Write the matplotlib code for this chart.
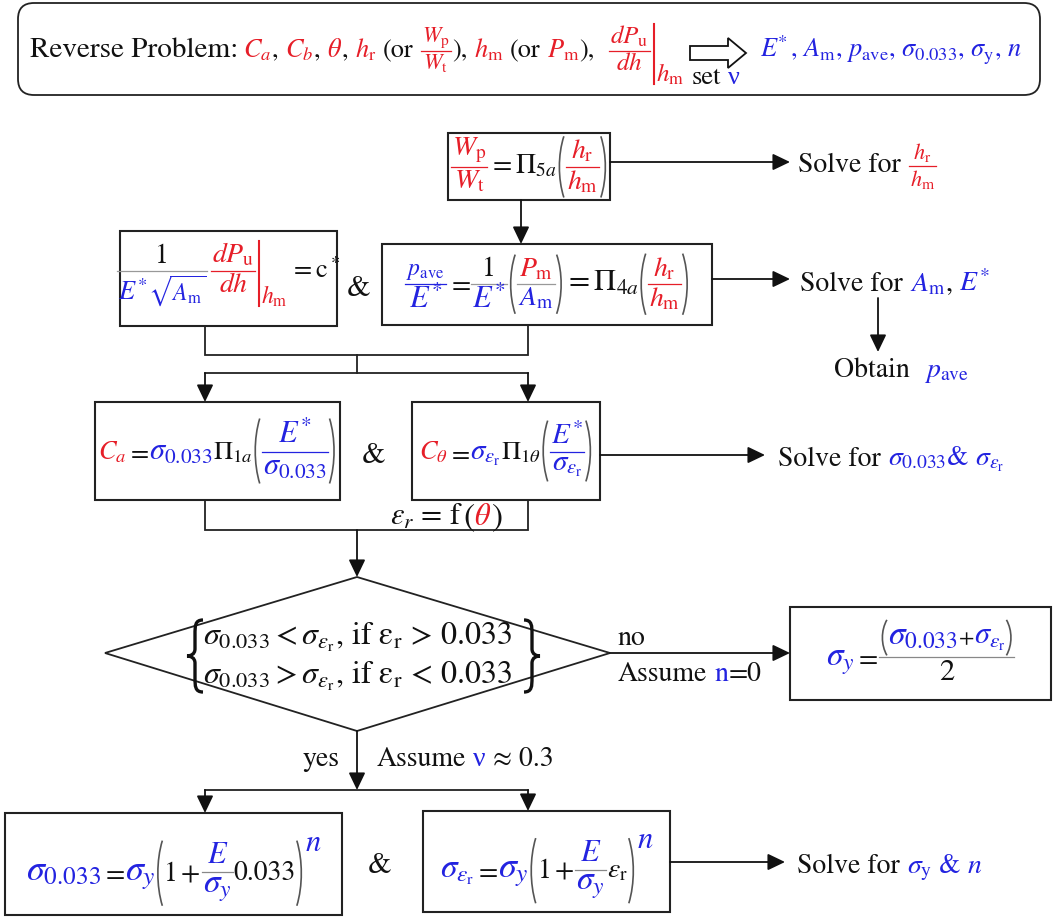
import matplotlib.pyplot as plt
from matplotlib.path import Path
from matplotlib.patches import PathPatch, Rectangle, FancyBboxPatch, Polygon

plt.rcParams['mathtext.fontset'] = 'stix'
plt.rcParams['font.family'] = ['STIXGeneral', 'DejaVu Serif']

RED = '#e61e28'
BLUE = '#2323e0'
INK = '#111111'
EDGE = '#222222'

W, H = 1054, 918
PX = 100 / 72

# plain-text labels of the flow chart
header_title = 'Reverse Problem:'
header_outputs = r'$E^{\!\!*}$, $A_\mathrm{m}$, $p_\mathrm{ave}$, $\sigma_{0.033}$, $\sigma_\mathrm{y}$, $n$'
solve_word = 'Solve for'
obtain_word = 'Obtain'
branch_no = ['no', 'Assume', 'n', '=0']
branch_yes = ['yes', 'Assume', 'ν', '≈ 0.3']
conditions = [r'$\sigma_{0.033} < \sigma_{\varepsilon_\mathrm{r}}$, if ε$_\mathrm{r}$ > 0.033',
              r'$\sigma_{0.033} > \sigma_{\varepsilon_\mathrm{r}}$, if ε$_\mathrm{r}$ < 0.033']

fig = plt.figure(figsize=(W / 100, H / 100), dpi=100)
ax = fig.add_axes([0, 0, 1, 1])
ax.set_xlim(0, W)
ax.set_ylim(H, 0)
ax.axis('off')
rend = fig.canvas.get_renderer()


class Txt:
    def __init__(self, s, color=INK, size=20, family=None):
        kw = {'family': family} if family else {}
        self.t = ax.text(0, 0, s, color=color, fontsize=size, va='baseline', ha='left', **kw)
        bb = self.t.get_window_extent(rend)
        self.w, self.asc, self.desc = bb.width, bb.y1 - H, H - bb.y0

    def place(self, x, y):
        self.t.set_position((x, y))


class Gap:
    def __init__(self, w):
        self.w, self.asc, self.desc = w, 0, 0

    def place(self, x, y):
        pass


def sp(size=20):
    return Gap(0.25 * size * PX)


class Row:
    def __init__(self, *items):
        self.items = items
        self.w = sum(i.w for i in items)
        self.asc = max(i.asc for i in items)
        self.desc = max(i.desc for i in items)

    def place(self, x, y):
        for i in self.items:
            i.place(x, y)
            x += i.w


class Frac:
    def __init__(self, num, den, color=INK, size=20, pad=2, gap=2, axis=0.25):
        self.num, self.den, self.color = num, den, color
        self.axis = axis * size * PX
        self.gap, self.pad = gap, pad
        self.w = max(num.w, den.w) + 2 * pad
        self.asc = self.axis + gap + num.desc + num.asc
        self.desc = den.asc + den.desc + gap - self.axis

    def place(self, x, y):
        by = y - self.axis
        self.num.place(x + (self.w - self.num.w) / 2, by - self.gap - self.num.desc)
        self.den.place(x + (self.w - self.den.w) / 2, by + self.gap + self.den.asc)
        ax.plot([x + 1, x + self.w - 1], [by, by], color=self.color, lw=0.9)


class Paren:
    def __init__(self, inner, pw=7, m=2, color='#555555'):
        self.inner, self.pw, self.m, self.color = inner, pw, m, color
        self.w = inner.w + 2 * pw + 2
        self.asc = inner.asc + m
        self.desc = inner.desc + m

    def place(self, x, y):
        top, bot = y - self.asc, y + self.desc
        h = bot - top
        self.inner.place(x + self.pw + 1, y)
        for x0, x1 in ((x + self.pw, x + 1), (x + self.w - self.pw, x + self.w - 1)):
            verts = [(x0, top), (x1, top + 0.3 * h), (x1, bot - 0.3 * h), (x0, bot)]
            path = Path(verts, [Path.MOVETO, Path.CURVE4, Path.CURVE4, Path.CURVE4])
            ax.add_patch(PathPatch(path, fill=False, ec=self.color, lw=1.2))


class EvalBar:
    def __init__(self, inner, sub, color=RED):
        self.inner, self.sub, self.color = inner, sub, color
        self.w = inner.w + 5 + sub.w
        self.asc = inner.asc
        self.desc = inner.desc + 0.4 * sub.asc

    def place(self, x, y):
        self.inner.place(x, y)
        bx = x + self.inner.w + 3
        ax.plot([bx, bx], [y - self.inner.asc, y + self.inner.desc + 8], color=self.color, lw=1.5)
        self.sub.place(bx + 2, y + self.inner.desc + 6)


class Sup:
    def __init__(self, base, sup):
        self.base, self.sup = base, sup
        self.w = base.w + sup.w + 1
        self.asc = base.asc + 0.5 * sup.asc
        self.desc = base.desc

    def place(self, x, y):
        self.base.place(x, y)
        self.sup.place(x + self.base.w + 1, y - self.base.asc + 0.5 * self.sup.asc)


def boxed(x0, y0, x1, y1, content, dx=0, dy=0):
    ax.add_patch(Rectangle((x0, y0), x1 - x0, y1 - y0, fill=False, ec=EDGE, lw=1.5))
    cx = (x0 + x1) / 2 - content.w / 2 + dx
    cy = (y0 + y1) / 2 + (content.asc - content.desc) / 2 + dy
    content.place(cx, cy)


def line(xs, ys):
    ax.plot(xs, ys, color=EDGE, lw=1.3, solid_joinstyle='miter')


def arrow(x0, y0, x1, y1):
    ax.annotate('', xy=(x1, y1), xytext=(x0, y0),
                arrowprops=dict(arrowstyle='-|>,head_length=0.75,head_width=0.36',
                                color=INK, lw=1.3, shrinkA=0, shrinkB=0,
                                mutation_scale=14))


def brace(x_tip, top, bot, w):
    # curly brace drawn as a path; w < 0 opens to the left
    mid = (top + bot) / 2
    h = bot - top
    xa, xm = x_tip + w, x_tip + w / 2
    verts = [(xa, top), (xm, top), (xm, top + 0.08 * h), (xm, top + 0.2 * h),
             (xm, mid - 0.1 * h),
             (xm, mid - 0.02 * h), (x_tip + 0.2 * w, mid), (x_tip, mid),
             (x_tip + 0.2 * w, mid), (xm, mid + 0.02 * h), (xm, mid + 0.1 * h),
             (xm, bot - 0.2 * h),
             (xm, bot - 0.08 * h), (xm, bot), (xa, bot)]
    codes = ([Path.MOVETO] + [Path.CURVE4] * 3 + [Path.LINETO] + [Path.CURVE4] * 6
             + [Path.LINETO] + [Path.CURVE4] * 3)
    ax.add_patch(PathPatch(Path(verts, codes), fill=False, ec=INK, lw=2.4))


def hr(size=20, color=RED):
    return Frac(Txt(r'$h_\mathrm{r}$', color, size), Txt(r'$h_\mathrm{m}$', color, size), color, size)


ESTAR = r'$E^{\!*}$'

# ---- header ----
ax.add_patch(FancyBboxPatch((18, 3), 1022, 92, boxstyle='round,pad=0,rounding_size=16',
                            fill=False, ec=EDGE, lw=1.3))
hs = 19
Row(Txt(header_title, INK, 21), Gap(5),
    Txt('$C_a$', RED, hs), Txt(',', INK, hs), sp(hs),
    Txt('$C_b$', RED, hs), Txt(',', INK, hs), sp(hs),
    Txt(r'$\theta$', RED, hs), Txt(',', INK, hs), sp(hs),
    Txt(r'$h_\mathrm{r}$', RED, hs), sp(hs), Txt('(or', INK, hs), sp(hs),
    Frac(Txt(r'$W_\mathrm{p}$', RED, 16), Txt(r'$W_\mathrm{t}$', RED, 16), RED, 16, gap=1),
    Txt('),', INK, hs), sp(hs),
    Txt(r'$h_\mathrm{m}$', RED, hs), sp(hs), Txt('(or', INK, hs), sp(hs),
    Txt(r'$P_\mathrm{m}$', RED, hs), Txt('),', INK, hs), sp(hs), sp(hs),
    EvalBar(Frac(Txt(r'$dP_\mathrm{u}$', RED, 18), Txt('$dh$', RED, 18), RED, 18, gap=1),
            Txt(r'$h_\mathrm{m}$', RED, 18))).place(30, 57)
ax.add_patch(Polygon([(690, 46), (728, 46), (728, 38), (746, 53), (728, 68), (728, 60), (690, 60)],
                     closed=True, fc='white', ec=INK, lw=1.3))
Row(Txt('set', INK, hs), sp(hs), Txt('ν', BLUE, hs, 'Liberation Serif')).place(692, 84)
Txt(header_outputs, BLUE, hs).place(760, 57)

# ---- energy ratio box ----
boxed(448, 133, 610, 200,
      Row(Frac(Txt(r'$W_\mathrm{p}$', RED, 20), Txt(r'$W_\mathrm{t}$', RED, 20), RED, 20),
          Txt(r'$=\Pi_{5a}$', INK, 20), Paren(hr(20))))
arrow(610, 162, 790, 162)
Row(Txt(solve_word, INK, 20), sp(), hr(16)).place(798, 172)
arrow(521, 200, 521, 244)

# ---- slope box and average pressure box ----
boxed(120, 231, 337, 326,
      Row(Frac(Txt('1', INK, 20),
               Row(Txt(ESTAR, BLUE, 19), Txt(r'$\sqrt{A_\mathrm{m}}$', BLUE, 17)), '#999999', 20),
          Gap(2),
          EvalBar(Frac(Txt(r'$dP_\mathrm{u}$', RED, 20), Txt('$dh$', RED, 20), RED, 20),
                  Txt(r'$h_\mathrm{m}$', RED, 17)),
          Gap(2), Txt(r'$=\mathrm{c}^*$', INK, 19)), dy=-4)
Txt('&', INK, 22).place(347, 296)
boxed(382, 244, 712, 325,
      Row(Frac(Txt(r'$p_\mathrm{ave}$', BLUE, 17), Txt(ESTAR, BLUE, 22), BLUE, 20),
          Txt('$=$', INK, 20),
          Frac(Txt('1', INK, 20), Txt(ESTAR, BLUE, 22), '#999999', 20),
          Paren(Frac(Txt(r'$P_\mathrm{m}$', RED, 20), Txt(r'$A_\mathrm{m}$', BLUE, 20), '#999999', 20)),
          Txt(r'$=\Pi_{4a}$', INK, 22), Paren(hr(20))))
arrow(712, 279, 790, 279)
Row(Txt(solve_word, INK, 20), sp(), Txt(r'$A_\mathrm{m}$', BLUE, 20), Txt(',', INK, 20), sp(),
    Txt(ESTAR, BLUE, 20)).place(800, 291)
arrow(878, 298, 878, 352)
Row(Txt(obtain_word, INK, 20), sp(), sp(), Txt(r'$p_\mathrm{ave}$', BLUE, 20)).place(834, 377)

line([205, 205, 528, 528], [326, 355, 355, 325])
line([357, 357], [355, 373])
line([205, 528], [373, 373])
arrow(205, 373, 205, 402)
arrow(528, 373, 528, 402)

# ---- representative stress boxes ----
sig033 = r'$\sigma_{0.033}$'
sig_er = r'$\sigma_{\varepsilon_\mathrm{r}}$'
boxed(95, 402, 340, 500,
      Row(Txt('$C_a$', RED, 19), Txt('$=$', INK, 19), Txt(sig033, BLUE, 22),
          Txt(r'$\Pi_{1a}$', INK, 19),
          Paren(Frac(Txt(ESTAR, BLUE, 22), Txt(sig033, BLUE, 22), BLUE, 22))))
Txt('&', INK, 22).place(362, 463)
boxed(412, 402, 600, 500,
      Row(Txt(r'$C_\theta$', RED, 19), Txt('$=$', INK, 19), Txt(sig_er, BLUE, 21),
          Txt(r'$\Pi_{1\theta}$', INK, 19),
          Paren(Frac(Txt(ESTAR, BLUE, 21), Txt(sig_er, BLUE, 21), BLUE, 21))))
arrow(600, 455, 765, 455)
Row(Txt(solve_word, INK, 20), sp(),
    Txt(sig033 + '& ' + sig_er, BLUE, 20)).place(778, 466)

line([205, 205, 528, 528], [500, 530, 530, 500])
Row(Txt(r'$\varepsilon_r$ = f', INK, 22), Txt('(', INK, 24), Txt(r'$\theta$', RED, 22),
    Txt(')', INK, 24)).place(390, 525)
arrow(357, 530, 357, 577)

# ---- decision diamond ----
ax.add_patch(Polygon([(105, 653), (357, 577), (610, 653), (357, 731)], closed=True,
                     fill=False, ec=EDGE, lw=1.3))
for cond, yb in zip(conditions, [645, 684]):
    ax.text(357, yb, cond, color=INK, fontsize=23, ha='center', va='baseline')
brace(187, 620, 692, 16)
brace(540, 620, 692, -16)

arrow(610, 653, 790, 653)
Txt(branch_no[0], INK, 20).place(618, 645)
Row(Txt(branch_no[1], INK, 20), sp(), Txt(branch_no[2], BLUE, 20),
    Txt(branch_no[3], INK, 20)).place(618, 681)
boxed(790, 607, 1051, 700,
      Row(Txt(r'$\sigma_y$', BLUE, 24), Txt('$=$', INK, 20),
          Frac(Paren(Row(Txt(sig033, BLUE, 24), Txt('$+$', INK, 16), Txt(sig_er, BLUE, 22))),
               Txt('2', INK, 22), '#888888', 22)))

# ---- power-law fit ----
arrow(357, 731, 357, 790)
Txt(branch_yes[0], INK, 20).place(303, 766)
Row(Txt(branch_yes[1], INK, 20), sp(), Txt(branch_yes[2], BLUE, 20, 'Liberation Serif'), sp(),
    Txt(branch_yes[3], INK, 20)).place(377, 766)
line([205, 528], [790, 790])
arrow(205, 790, 205, 813)
arrow(528, 790, 528, 811)

sig_y = r'$\sigma_y$'
boxed(5, 813, 342, 915,
      Row(Txt(sig033, BLUE, 26), Txt('$=$', INK, 20), Txt(sig_y, BLUE, 26),
          Sup(Paren(Row(Txt('$1+$', INK, 20),
                        Frac(Txt('$E$', BLUE, 22), Txt(sig_y, BLUE, 24), '#888888', 22),
                        Txt('0.033', INK, 20))),
              Txt('$n$', BLUE, 22))), dy=4)
Txt('&', INK, 22).place(368, 873)
boxed(423, 811, 670, 912,
      Row(Txt(sig_er, BLUE, 24), Txt('$=$', INK, 20), Txt(sig_y, BLUE, 26),
          Sup(Paren(Row(Txt('$1+$', INK, 20),
                        Frac(Txt('$E$', BLUE, 22), Txt(sig_y, BLUE, 24), '#888888', 22),
                        Txt(r'$\varepsilon_\mathrm{r}$', INK, 20))),
              Txt('$n$', BLUE, 22))), dy=4)
arrow(670, 862, 785, 862)
Row(Txt(solve_word, INK, 20), sp(), Txt(r'$\sigma_\mathrm{y}$ & $n$', BLUE, 20)).place(797, 873)

fig.savefig('out.png', dpi=100, facecolor='white')
